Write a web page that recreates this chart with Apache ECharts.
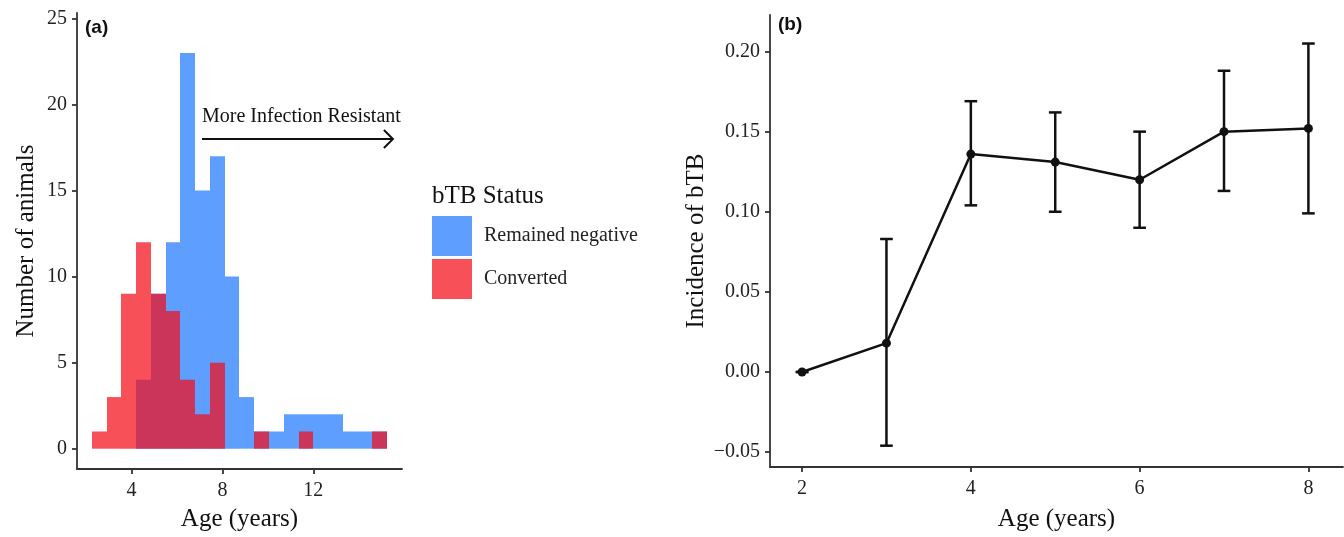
<!DOCTYPE html>
<html>
<head>
<meta charset="utf-8">
<script src="https://cdn.jsdelivr.net/npm/echarts@6/dist/echarts.min.js"></script>
<style>
  html, body { margin: 0; background: #fff; }
  #main { width: 1344px; height: 537px; }
</style>
</head>
<body>
<div id="main"></div>
<script>
// (a) histogram of age, bins of 0.65 years
const binEdges = [2.25, 2.9, 3.55, 4.2, 4.85, 5.5, 6.15, 6.8, 7.45, 8.1, 8.75,
  9.4, 10.05, 10.7, 11.35, 12.0, 12.65, 13.3, 13.95, 14.6, 15.25];
const remainedNegative = [0, 0, 0, 4, 9, 12, 23, 15, 17, 10, 3, 1, 1, 2, 2, 2, 2, 1, 1, 1];
const converted = [1, 3, 9, 12, 9, 8, 4, 2, 5, 0, 0, 1, 0, 0, 1, 0, 0, 0, 0, 1];
const histXTicks = [4, 8, 12];
const histYTicks = [0, 5, 10, 15, 20, 25];

// (b) incidence of bTB by age, with error bars
const ages = [2, 3, 4, 5, 6, 7, 8];
const incidence = [0, 0.018, 0.136, 0.131, 0.12, 0.15, 0.152];
const ciLower = [0, -0.046, 0.104, 0.1, 0.09, 0.113, 0.099];
const ciUpper = [0, 0.083, 0.169, 0.162, 0.15, 0.188, 0.205];
const incXTicks = [2, 4, 6, 8];
const incYTicks = [-0.05, 0, 0.05, 0.1, 0.15, 0.2];

const serif = 'Liberation Serif';
const sans = 'Liberation Sans';
const axisColor = '#333';

const binData = (counts) => counts.map((n, i) => [binEdges[i], binEdges[i + 1], n]);

const renderBin = (params, api) => {
  const n = api.value(2);
  if (!n) return null;
  const top = api.coord([api.value(0), n]);
  const bottom = api.coord([api.value(1), 0]);
  const x0 = Math.round(top[0]);
  const x1 = Math.round(bottom[0]);
  return {
    type: 'rect',
    shape: { x: x0, y: top[1], width: x1 - x0, height: bottom[1] - top[1] },
    style: { fill: api.visual('color') },
  };
};

const capHalf = 0.075;
const renderErrorBar = (params, api) => {
  const x = api.value(0);
  const lo = api.coord([x, api.value(1)]);
  const hi = api.coord([x, api.value(2)]);
  const w = api.coord([x + capHalf, 0])[0] - lo[0];
  const st = { stroke: '#111', lineWidth: 2.5 };
  return {
    type: 'group',
    children: [
      { type: 'line', shape: { x1: lo[0], y1: lo[1], x2: hi[0], y2: hi[1] }, style: st },
      { type: 'line', shape: { x1: lo[0] - w, y1: lo[1], x2: lo[0] + w, y2: lo[1] }, style: st },
      { type: 'line', shape: { x1: hi[0] - w, y1: hi[1], x2: hi[0] + w, y2: hi[1] }, style: st },
    ],
  };
};

// arrow annotation in panel (a), in data units
const arrowStart = [7.1, 18];
const arrowEnd = [15.5, 18];
const noteAt = [7.1, 19.3];
const renderArrow = (params, api) => {
  const a = api.coord(arrowStart);
  const b = api.coord(arrowEnd);
  const t = api.coord(noteAt);
  const st = { stroke: '#111', lineWidth: 2, fill: null };
  return {
    type: 'group',
    children: [
      { type: 'line', shape: { x1: a[0], y1: a[1], x2: b[0], y2: b[1] }, style: st },
      { type: 'polyline', shape: { points: [[b[0] - 9, b[1] - 9], [b[0], b[1]], [b[0] - 9, b[1] + 9]] }, style: st },
      {
        type: 'text',
        style: {
          x: t[0], y: t[1], text: 'More Infection Resistant',
          font: '20px "' + serif + '"', fill: '#111',
          align: 'left', verticalAlign: 'middle',
        },
      },
    ],
  };
};

const axisBase = {
  axisLine: { onZero: false, lineStyle: { color: axisColor, width: 1.8 } },
  axisTick: { length: 5, lineStyle: { color: axisColor, width: 1.8 } },
  splitLine: { show: false },
  nameLocation: 'middle',
  nameTextStyle: { fontFamily: serif, fontSize: 25, color: '#111' },
};

const chart = echarts.init(document.getElementById('main'));
chart.setOption({
  animation: false,
  grid: [
    { left: 77, top: 13, width: 325, height: 458.7 },
    { left: 770, top: 15, width: 573, height: 457 },
  ],
  xAxis: [
    {
      ...axisBase, type: 'value', gridIndex: 0, min: 1.6, max: 15.9,
      name: 'Age (years)', nameGap: 38,
      axisTick: { ...axisBase.axisTick, customValues: histXTicks },
      axisLabel: { customValues: histXTicks, margin: 12, fontFamily: serif, fontSize: 20, color: '#222' },
    },
    {
      ...axisBase, type: 'value', gridIndex: 1, min: 1.62, max: 8.41,
      name: 'Age (years)', nameGap: 40,
      axisTick: { ...axisBase.axisTick, customValues: incXTicks },
      axisLabel: { customValues: incXTicks, margin: 12, fontFamily: serif, fontSize: 20, color: '#222' },
    },
  ],
  yAxis: [
    {
      ...axisBase, type: 'value', gridIndex: 0, min: -1.18, max: 25.32,
      name: 'Number of animals', nameGap: 38,
      axisTick: { ...axisBase.axisTick, customValues: histYTicks },
      axisLabel: { customValues: histYTicks, margin: 10, fontFamily: serif, fontSize: 20, color: '#222' },
    },
    {
      ...axisBase, type: 'value', gridIndex: 1, min: -0.0593, max: 0.2228,
      name: 'Incidence of bTB', nameGap: 61,
      axisTick: { ...axisBase.axisTick, customValues: incYTicks },
      axisLabel: {
        customValues: incYTicks, margin: 10, fontFamily: serif, fontSize: 20, color: '#222',
        formatter: (v) => (v < 0 ? '\u2212' : '') + Math.abs(v).toFixed(2),
      },
    },
  ],
  legend: {
    data: ['Remained negative', 'Converted'],
    orient: 'vertical', left: 427, top: 211,
    itemWidth: 40, itemHeight: 40, itemGap: 3, icon: 'rect',
    selectedMode: false,
    textStyle: { fontFamily: serif, fontSize: 20, color: '#222', padding: [0, 0, 0, 7] },
  },
  graphic: [
    { type: 'text', left: 432, top: 184, style: { text: 'bTB Status', font: '25px "' + serif + '"', fill: '#111' } },
    { type: 'text', left: 85, top: 18, style: { text: '(a)', font: 'bold 19px "' + sans + '"', fill: '#111' } },
    { type: 'text', left: 778, top: 15, style: { text: '(b)', font: 'bold 19px "' + sans + '"', fill: '#111' } },
  ],
  series: [
    {
      name: 'Remained negative', type: 'custom', xAxisIndex: 0, yAxisIndex: 0,
      renderItem: renderBin, itemStyle: { color: '#5E9EFF' },
      encode: { x: [0, 1], y: 2 }, data: binData(remainedNegative),
    },
    {
      name: 'Converted', type: 'custom', xAxisIndex: 0, yAxisIndex: 0,
      renderItem: renderBin, itemStyle: { color: 'rgba(245, 12, 25, 0.72)' },
      encode: { x: [0, 1], y: 2 }, data: binData(converted),
    },
    {
      name: 'note', type: 'custom', xAxisIndex: 0, yAxisIndex: 0, clip: false,
      renderItem: renderArrow, data: [[arrowStart[0], arrowStart[1]]], z: 5,
    },
    {
      name: 'ci', type: 'custom', xAxisIndex: 1, yAxisIndex: 1,
      renderItem: renderErrorBar,
      encode: { x: 0, y: [1, 2] },
      data: ages.map((a, i) => [a, ciLower[i], ciUpper[i]]),
    },
    {
      name: 'incidence', type: 'line', xAxisIndex: 1, yAxisIndex: 1,
      data: ages.map((a, i) => [a, incidence[i]]),
      symbol: 'circle', symbolSize: 9,
      lineStyle: { color: '#111', width: 2.5 },
      itemStyle: { color: '#111' },
      z: 3,
    },
  ],
});
</script>
</body>
</html>
